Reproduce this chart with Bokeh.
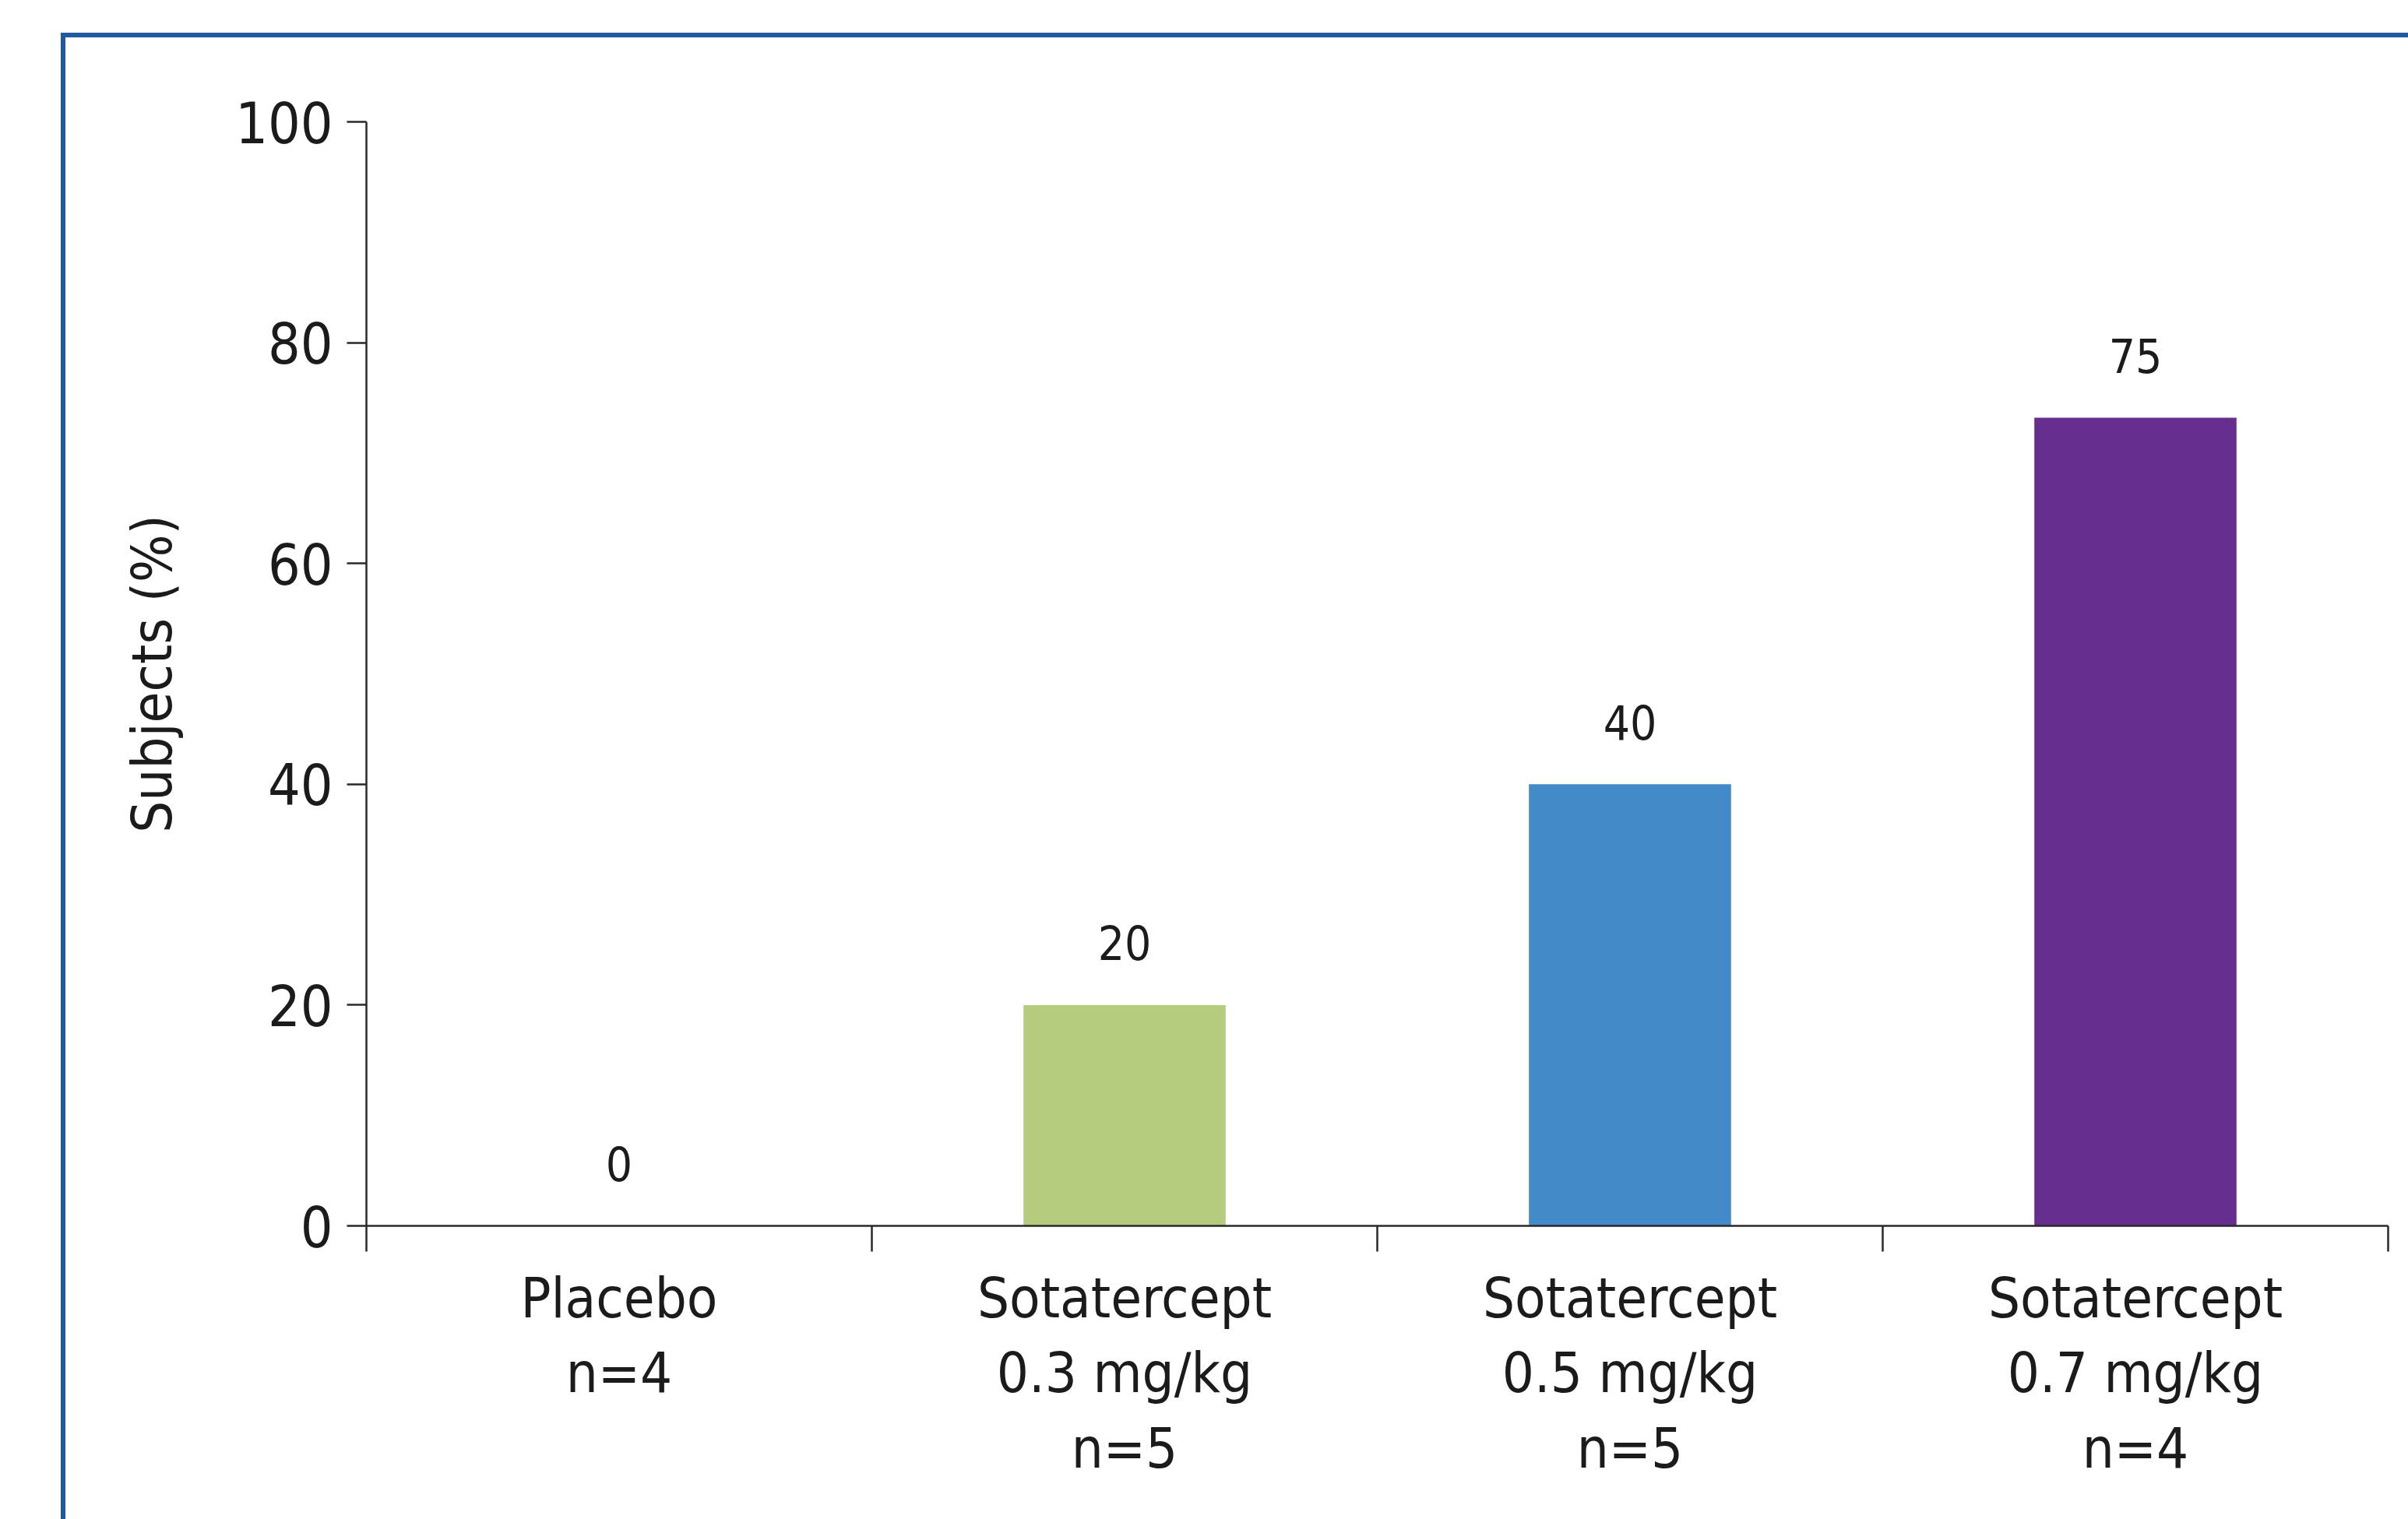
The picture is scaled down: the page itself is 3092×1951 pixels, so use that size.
from bokeh.plotting import figure
from bokeh.models import Range1d, FixedTicker, ColumnDataSource
from bokeh.core.properties import value
from bokeh.embed import file_html
from bokeh.resources import INLINE

categories = ["Placebo\nn=4", "Sotatercept\n0.3 mg/kg\nn=5",
              "Sotatercept\n0.5 mg/kg\nn=5", "Sotatercept\n0.7 mg/kg\nn=4"]
heights = [0, 20, 40, 73.2]
bar_labels = ["0", "20", "40", "75"]
colors = ["#ffffff", "#b5cc7f", "#438bc8", "#662e8f"]
y_ticks = [0, 20, 40, 60, 80, 100]

FONT = "'Liberation Sans Narrow', 'DejaVu Sans Condensed', 'Roboto', sans-serif"
INK = "#1c1a1a"
AX = "#2b2829"
FRAME_BLUE = "#1f5a9e"

centers = [i + 0.5 for i in range(len(categories))]
bounds = [float(i) for i in range(len(categories) + 1)]

p = figure(output_backend="svg", toolbar_location=None,
           frame_width=2596, frame_height=1418,
           min_border_left=470, min_border_right=26,
           min_border_top=156, min_border_bottom=377,
           x_range=Range1d(0, len(categories)), y_range=Range1d(0, 100))
p.background_fill_color = "white"
p.border_fill_alpha = 0
p.outline_line_color = None
p.grid.visible = False
# blue page frame: only its top and left sides fall inside the picture
p.styles = {
    "background-color": "white",
    "background-image": f"linear-gradient({FRAME_BLUE},{FRAME_BLUE}), linear-gradient({FRAME_BLUE},{FRAME_BLUE})",
    "background-size": "100% 6px, 6px 100%",
    "background-position": "78px 42px, 78px 42px",
    "background-repeat": "no-repeat",
}

src = ColumnDataSource(dict(x=centers, top=heights, label=bar_labels, color=colors))
p.vbar(x="x", top="top", bottom=0, width=0.4, fill_color="color", line_color=None, source=src)
p.text(x="x", y="top", text="label", source=src, text_align="center",
       text_baseline="alphabetic", y_offset=-80,
       text_font=value(FONT), text_font_size="60px", text_color=INK)

# y axis
ya = p.yaxis[0]
ya.ticker = FixedTicker(ticks=y_ticks)
ya.axis_label = "Subjects (%)"
ya.axis_label_text_font = FONT
ya.axis_label_text_font_size = "72px"
ya.axis_label_text_font_style = "normal"
ya.axis_label_text_color = INK
ya.axis_label_standoff = 62
ya.major_label_text_font = FONT
ya.major_label_text_font_size = "73px"
ya.major_label_text_color = INK
ya.major_label_standoff = 18
ya.major_tick_in = 0
ya.major_tick_out = 25
ya.minor_tick_in = 0
ya.minor_tick_out = 0
ya.axis_line_color = AX
ya.axis_line_width = 2.5
ya.major_tick_line_color = AX
ya.major_tick_line_width = 2.5

# x axis: labels at centers, tick marks at category boundaries
xa = p.xaxis[0]
xa.ticker = FixedTicker(ticks=centers, minor_ticks=bounds)
xa.major_label_overrides = {c: lab for c, lab in zip(centers, categories)}
xa.major_label_text_font = FONT
xa.major_label_text_font_size = "72px"
xa.major_label_text_color = INK
xa.major_label_text_align = "center"
xa.major_label_text_line_height = 1.15
xa.major_label_standoff = 17
xa.major_tick_in = 0
xa.major_tick_out = 0
xa.minor_tick_in = 0
xa.minor_tick_out = 33
xa.minor_tick_line_color = AX
xa.minor_tick_line_width = 2.5
xa.axis_line_color = AX
xa.axis_line_width = 2.5

open("out.html", "w").write(file_html(p, INLINE))
